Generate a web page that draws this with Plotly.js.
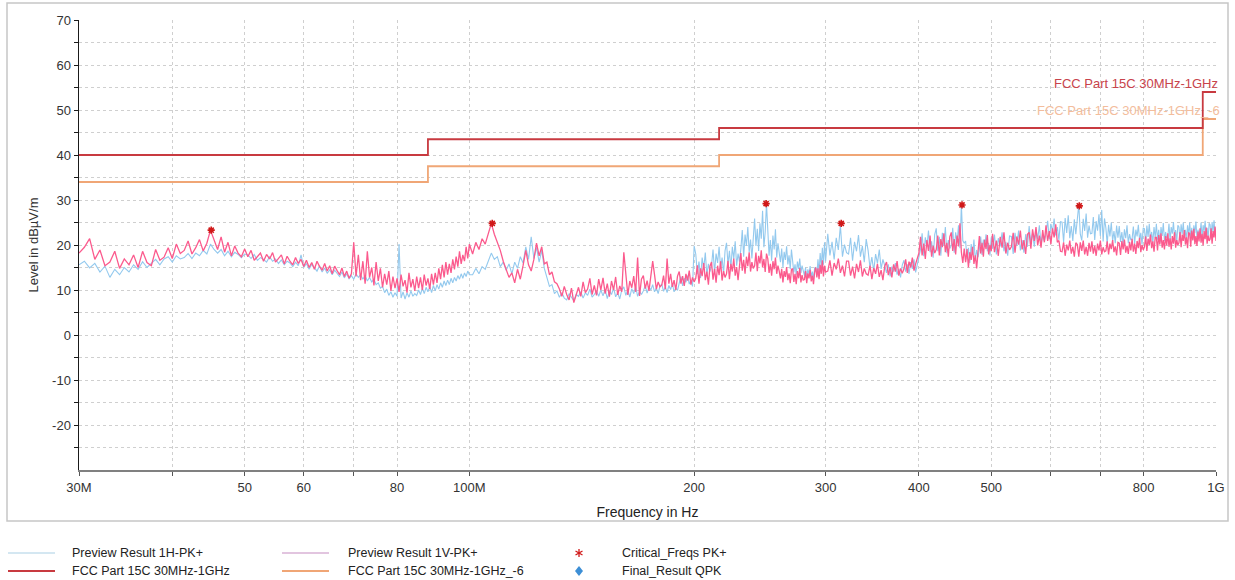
<!DOCTYPE html>
<html><head><meta charset="utf-8">
<script src="https://cdn.plot.ly/plotly-3.0.1.min.js"></script>
<style>html,body{margin:0;padding:0;background:#fff}#chart{width:1235px;height:580px}</style>
</head><body><div id="chart"></div>
<script>
// ---- data (frequency in MHz, level in dBµV/m) ----
const freqMHz = [
30,30.5,31,31.5,32,32.5,33,33.5,34,34.5,35,35.5,36,36.5,37,37.5,38,38.5,39,39.5,40,40.5,41,41.5,42,42.5,43,43.5,44,44.5,45,45.5,46,46.5,47,47.5,48,48.5,49,49.5,50,
50.5,51,51.5,52,52.5,53,53.5,54,54.5,55,55.5,56,56.5,57,57.5,58,58.5,59,59.5,60,60.5,61,61.5,62,62.5,63,63.5,64,64.5,65,65.5,66,66.5,67,67.5,68,68.5,69,69.5,70,
70.5,71,71.5,72,72.5,73,73.5,74,74.5,75,75.5,76,76.5,77,77.5,78,78.5,79,79.5,80,80.5,81,81.5,82,82.5,83,83.5,84,84.5,85,85.5,86,86.5,87,87.5,88,88.5,89,89.5,90,90.5,91,91.5,92,92.5,93,93.5,94,94.5,95,95.5,96,96.5,97,97.5,98,98.5,99,99.5,100,
101,102,103,104,105,106,107,108,109,110,111,112,113,114,115,116,117,118,119,120,121,122,123,124,125,126,127,128,129,130,131,132,133,134,135,136,137,138,139,140,141,142,143,144,145,146,147,148,149,150,
151,152,153,154,155,156,157,158,159,160,161,162,163,164,165,166,167,168,169,170,171,172,173,174,175,176,177,178,179,180,181,182,183,184,185,186,187,188,189,190,191,192,193,194,195,196,197,198,199,200,
201,202,203,204,205,206,207,208,209,210,211,212,213,214,215,216,217,218,219,220,221,222,223,224,225,226,227,228,229,230,231,232,233,234,235,236,237,238,239,240,241,242,243,244,245,246,247,248,249,250,
251,252,253,254,255,256,257,258,259,260,261,262,263,264,265,266,267,268,269,270,271,272,273,274,275,276,277,278,279,280,281,282,283,284,285,286,287,288,289,290,291,292,293,294,295,296,297,298,299,300,
302,304,306,308,310,312,314,316,318,320,322,324,326,328,330,332,334,336,338,340,342,344,346,348,350,352,354,356,358,360,362,364,366,368,370,372,374,376,378,380,
382,384,386,388,390,392,394,396,398,400,402,404,406,408,410,412,414,416,418,420,422,424,426,428,430,432,434,436,438,440,442,444,446,448,450,452,454,456,458,460,
462,464,466,468,470,472,474,476,478,480,482,484,486,488,490,492,494,496,498,500,
502,505,508,511,514,517,520,523,526,529,532,535,538,541,544,547,550,553,556,559,562,565,568,571,574,577,580,583,586,589,592,595,598,601,604,607,610,613,616,619,
622,625,628,631,634,637,640,643,646,649,652,655,658,661,664,667,670,673,676,679,682,685,688,691,694,697,700,703,706,709,712,715,718,721,724,727,730,733,736,739,
742,745,748,751,754,757,760,763,766,769,772,775,778,781,784,787,790,793,796,799,802,805,808,811,814,817,820,823,826,829,832,835,838,841,844,847,850,853,856,859,
862,865,868,871,874,877,880,883,886,889,892,895,898,901,904,907,910,913,916,919,922,925,928,931,934,937,940,943,946,949,952,955,958,961,964,967,970,973,976,979,
982,985,988,991,994,997,1000
];
const level1H = [
15.6,16.4,14.9,15.9,14.0,15.3,12.8,14.6,13.4,15.0,14.0,15.6,14.6,16.3,15.0,16.0,16.8,15.6,16.9,17.4,16.2,17.6,16.9,17.2,18.1,17.0,18.2,17.6,18.8,18.0,20.2,19.0,18.2,19.0,17.6,18.6,17.4,18.4,17.9,17.2,18.0,
17.8,17.0,17.9,16.6,17.2,16.8,16.2,17.4,16.4,16.9,15.9,16.7,15.6,16.4,16.0,15.2,16.2,15.4,17.8,15.0,15.9,14.6,15.7,14.8,14.2,15.4,14.0,14.9,13.7,14.5,13.4,14.4,13.6,13.0,14.0,12.7,13.6,12.5,13.2,12.4,
13.6,12.8,13.4,12.4,13.2,12.0,12.8,11.8,12.4,11.2,11.6,10.4,10.8,9.4,10.2,8.8,9.6,8.4,9.4,8.6,
20.2,8.2,9.6,8.0,9.4,8.4,9.8,8.6,9.2,8.8,10.0,9.0,10.4,9.2,10.6,9.6,10.8,9.4,11.0,9.8,
11.2,10.2,11.6,10.6,12.0,11.0,12.2,11.2,12.6,11.6,12.8,12.0,13.2,12.4,13.6,12.6,13.8,13.0,14.2,13.4,
13.4,14.8,13.6,15.2,14.6,16.4,18.2,16.8,17.4,15.2,16.2,14.4,15.8,13.6,16.2,14.8,17.4,16.0,19.6,16.8,21.8,17.0,19.4,16.2,18.8,14.8,13.0,10.8,11.2,9.2,9.8,8.4,9.4,8.2,7.8,9.2,8.4,7.6,9.0,8.6,9.6,8.2,9.4,8.8,10.2,8.4,9.0,9.8,8.6,10.0,
8.7,10.2,8.1,9.8,9.0,10.4,8.5,9.4,8.0,10.0,10.7,8.8,10.0,8.4,10.3,9.2,10.8,8.6,9.7,9.0,9.8,11.0,9.3,10.7,10.0,11.2,9.6,10.4,9.2,10.9,11.3,9.7,10.7,9.4,11.0,10.1,11.4,9.6,10.5,9.9,11.5,13.0,10.9,12.6,11.7,13.2,11.3,12.2,10.8,19.8,
18.0,13.5,16.3,12.7,17.2,14.7,18.3,13.3,15.8,14.1,15.4,19.0,13.9,18.1,16.0,19.6,14.8,17.2,13.6,18.7,20.5,15.7,18.7,14.8,19.6,16.9,20.8,15.4,18.1,16.3,19.1,23.3,17.4,22.3,19.8,24.0,18.4,21.2,17.0,23.0,25.9,19.8,23.6,18.7,24.8,21.4,27.6,19.5,22.9,29.2,
23.2,17.6,21.1,16.5,22.1,19.0,23.5,17.2,20.4,18.3,16.2,19.2,15.0,18.5,16.7,19.7,15.7,17.7,14.7,19.0,16.8,13.9,15.7,13.4,16.3,14.7,17.0,13.8,15.4,14.3,13.2,15.0,12.5,14.6,13.5,15.3,12.9,14.1,12.3,14.9,15.0,13.2,16.8,14.0,18.2,15.0,19.4,15.6,20.6,16.4,
22.5,17.7,20.7,16.8,21.6,18.9,24.4,17.4,20.1,18.3,18.0,21.6,16.5,20.7,18.6,22.2,17.4,19.8,16.2,21.3,18.8,14.9,17.3,14.2,18.0,15.9,19.0,14.7,16.8,15.4,13.8,15.7,13.0,15.2,14.1,16.0,13.4,14.7,12.8,15.5,
16.6,14.1,15.7,13.6,16.2,14.7,16.8,13.9,15.4,17.0,19.0,22.6,17.5,21.7,19.6,23.2,18.4,20.8,17.2,22.3,23.7,18.6,21.8,17.6,22.7,19.8,24.0,18.2,21.1,19.2,19.9,23.8,18.3,22.8,20.6,24.4,19.3,29.0,21.0,20.4,
20.9,16.8,19.4,16.0,20.2,17.8,21.2,16.5,18.9,17.3,19.0,21.9,17.8,21.2,19.5,22.4,18.6,20.5,17.6,21.7,
19.2,22.3,17.9,21.5,19.7,22.8,18.6,20.7,17.6,22.0,21.9,18.0,22.7,19.8,23.2,18.8,21.1,18.3,22.4,19.6,24.2,20.3,22.7,19.6,23.4,21.3,24.4,20.1,22.2,20.8,22.5,25.4,21.3,24.7,23.0,25.9,22.1,24.0,21.1,25.2,
25.1,20.6,26.0,22.7,26.6,21.5,24.2,20.9,25.7,22.4,26.7,29.0,22.4,21.0,25.8,23.1,27.0,21.6,24.3,22.5,22.6,26.2,21.1,25.3,23.2,26.8,22.0,27.8,20.8,25.9,23.8,20.2,24.5,21.9,25.0,20.9,23.1,20.4,24.3,21.6,
24.2,20.7,22.9,20.0,23.5,21.5,24.4,20.4,22.4,21.1,21.4,24.1,20.3,23.4,21.9,24.5,21.0,22.7,20.1,23.8,23.6,20.3,24.3,21.8,24.7,21.0,22.9,20.5,24.0,21.6,24.7,21.2,23.4,20.5,24.0,22.0,24.9,20.9,22.9,21.6,
22.0,24.7,20.9,24.0,22.5,25.1,21.6,23.3,20.7,24.4,24.0,21.0,24.6,22.4,25.0,21.6,23.4,21.2,24.4,22.2,25.0,21.8,23.8,21.2,24.4,22.6,25.2,21.6,23.4,22.2,22.6,25.0,21.6,24.4,23.0,25.4,22.2,23.8,21.4,24.8,
24.5,21.5,25.1,22.9,25.5,22.1,23.9
];
const level1V = [
18.2,19.5,21.4,16.8,18.9,15.4,16.2,18.6,14.8,16.9,15.6,17.8,15.0,18.6,16.1,15.4,19.0,16.6,17.3,19.4,17.0,20.2,18.1,18.8,20.9,18.0,19.4,21.2,18.7,20.4,23.3,21.2,19.0,21.8,18.4,20.6,17.6,19.8,18.2,17.4,19.1,
17.4,18.8,16.6,17.4,18.2,16.4,17.9,16.9,18.3,16.2,17.0,17.8,15.8,17.5,16.4,15.6,17.2,15.9,16.8,15.2,16.6,15.0,16.1,14.6,16.4,15.2,14.4,15.9,14.2,15.4,13.6,15.3,14.3,13.4,14.9,13.0,14.2,12.6,13.6,20.6,
13.0,17.8,12.2,16.4,11.4,18.6,12.8,15.0,11.0,16.2,12.0,14.8,10.6,13.6,11.2,14.2,9.8,13.0,10.4,12.6,
9.6,13.4,10.8,12.2,9.4,13.8,10.6,12.4,9.8,13.0,10.4,12.8,10.0,13.4,11.0,12.6,10.2,13.6,11.2,13.8,
11.6,14.8,12.4,15.6,12.8,16.2,13.4,15.8,13.8,16.8,14.6,17.4,15.2,18.6,15.8,17.8,16.4,19.6,17.0,20.2,
18.0,20.6,19.0,21.4,20.2,22.6,24.8,22.4,20.6,18.8,16.4,14.6,12.8,13.8,11.6,14.6,12.4,15.4,18.8,15.6,14.2,16.8,20.4,17.6,19.6,15.8,16.2,13.4,14.0,11.8,11.4,10.2,8.6,10.8,9.0,7.8,10.4,7.2,9.2,10.6,8.6,11.8,9.4,10.2,12.6,9.0,11.0,8.8,12.4,10.0,
12.7,9.2,11.4,8.5,12.0,10.0,12.9,8.9,10.9,9.6,18.4,12.7,8.9,12.0,10.5,13.1,9.6,17.2,8.7,12.4,13.2,10.3,12.1,9.8,12.7,16.4,13.4,10.2,11.8,10.7,11.1,13.2,10.2,17.0,11.4,13.6,10.7,12.2,10.0,13.1,14.1,11.4,13.1,10.9,13.6,12.1,14.3,11.2,12.8,11.8,
12.6,15.5,11.4,14.8,13.1,16.0,12.2,14.1,11.2,15.3,16.2,12.3,14.7,11.6,15.4,13.3,16.4,12.1,14.2,12.8,13.6,16.5,12.4,15.8,14.1,17.0,13.2,15.1,12.2,16.3,18.2,14.3,16.7,13.6,17.4,15.3,18.4,14.1,16.2,14.8,15.4,18.3,14.2,17.6,15.9,18.8,15.0,16.9,14.0,18.1,
17.0,13.8,15.8,13.2,16.4,14.6,17.2,13.6,15.4,14.2,12.6,14.7,11.7,14.2,12.9,15.1,12.2,13.7,11.5,14.6,14.7,11.8,13.6,11.3,14.2,12.6,14.9,11.7,13.3,12.2,12.3,14.2,11.5,13.7,12.6,14.5,11.9,13.2,11.3,14.0,15.0,12.8,14.8,12.4,15.6,13.6,16.6,13.0,15.4,14.0,
14.2,16.6,13.2,16.0,14.6,17.0,13.8,15.4,13.0,16.4,16.4,13.2,15.2,12.6,15.8,14.0,16.6,13.0,14.8,13.6,13.3,15.4,12.4,14.9,13.6,15.8,12.9,14.4,12.2,15.3,16.2,13.3,15.1,12.8,15.7,14.1,16.4,13.2,14.8,13.7,
14.7,16.8,13.8,16.3,15.0,17.2,14.3,15.8,16.8,18.2,21.8,17.7,20.3,16.9,21.1,18.7,22.1,17.4,19.8,18.2,19.0,22.1,17.7,21.3,19.5,22.6,18.4,20.5,17.4,21.8,22.8,18.7,21.3,17.9,22.1,19.7,24.8,18.4,16.0,19.2,
16.2,19.1,15.0,18.4,16.7,19.6,15.8,17.7,14.8,18.9,22.0,18.1,20.5,17.4,21.2,19.1,22.2,17.9,20.0,18.6,
22.5,18.4,21.0,17.6,21.8,19.4,22.8,18.1,20.5,18.9,19.6,22.7,18.3,21.9,20.1,23.2,19.0,21.1,18.0,22.4,22.8,19.2,23.5,20.9,24.0,19.9,22.1,19.4,23.3,20.6,24.4,20.9,23.1,20.2,23.7,21.7,24.6,20.6,21.0,18.6,
18.5,20.6,17.6,20.1,18.8,21.0,18.1,19.6,17.4,20.5,20.1,17.4,20.6,18.7,21.0,17.9,19.6,17.6,20.5,18.5,20.8,18.1,19.8,17.6,20.3,18.8,21.0,17.9,19.5,18.5,18.7,20.8,17.9,20.3,19.1,21.1,18.4,19.7,17.7,20.6,
20.4,17.8,20.9,19.0,21.2,18.3,19.8,18.0,20.7,18.8,21.4,18.5,20.3,18.0,20.9,19.3,21.6,18.4,20.0,18.9,19.6,21.9,18.7,21.4,20.0,22.3,19.3,20.8,18.5,21.7,21.7,18.8,22.2,20.1,22.6,19.4,21.1,19.0,22.0,19.9,
22.6,19.6,21.5,19.0,22.0,20.3,22.8,19.4,21.1,20.0,20.5,22.9,19.5,22.3,20.9,23.3,20.1,21.7,19.3,22.7,22.6,19.6,23.2,21.0,23.6,20.2,22.0,19.8,23.0,20.8,23.7,20.5,22.5,19.9,23.1,21.3,23.9,20.3,22.1,20.9,
21.3,23.7,20.3,23.1,21.7,24.1,20.9
];
const limitFreq = [30, 88, 216, 960, 1000];
const limitFCC  = [40, 43.5, 46, 54, 54];
const limitFCC6 = [34, 37.5, 40, 48, 48];
const critFreq  = [45.1, 107.3, 249.7, 314.8, 456.9, 656.0];
const critLevel = [23.3, 24.8, 29.2, 24.8, 28.9, 28.7];
const xTickVals = [30,40,50,60,70,80,100,200,300,400,500,600,700,800,1000];
const xTickText = ['30M','','50','60','','80','100M','200','300','400','500','','','800','1G'];
const yTickVals = [-25,-20,-15,-10,-5,0,5,10,15,20,25,30,35,40,45,50,55,60,65,70];
const yTickText = ['','-20','','-10','','0','','10','','20','','30','','40','','50','','60','','70'];
const legendNames = ['Preview Result 1H-PK+','Preview Result 1V-PK+','Critical_Freqs PK+','FCC Part 15C 30MHz-1GHz','FCC Part 15C 30MHz-1GHz_-6','Final_Result QPK'];

// ---- styling / layout ----
const FONT = 'Liberation Sans, Arial, sans-serif';
const C1H = '#93c9ee', C1V = '#fb5a8d', CLIM = '#c83a40', CLIM6 = '#f0a676';
const L = 79, R = 1216, T = 20, B = 470;
const px = x => (x - L) / (R - L);
const py = y => (B - y) / (B - T);

const traces = [
  {x: freqMHz, y: level1H, type: 'scatter', mode: 'lines', line: {color: C1H, width: 1.1}, hoverinfo: 'skip'},
  {x: freqMHz, y: level1V, type: 'scatter', mode: 'lines', line: {color: C1V, width: 1.3}, hoverinfo: 'skip'},
  {x: limitFreq, y: limitFCC6, type: 'scatter', mode: 'lines', line: {color: CLIM6, width: 1.8, shape: 'hv'}},
  {x: limitFreq, y: limitFCC, type: 'scatter', mode: 'lines', line: {color: CLIM, width: 1.8, shape: 'hv'}},
  {x: critFreq, y: critLevel, type: 'scatter', mode: 'markers',
   marker: {symbol: 'asterisk-open', size: 6, color: '#d01818', line: {color: '#d01818', width: 1.6}}}
];

const shapes = [
  {type: 'rect', xref: 'paper', yref: 'paper', x0: px(7), x1: px(1228), y0: py(521), y1: py(3),
   line: {color: '#c6c6c6', width: 1.5}, layer: 'below'}
];
const annotations = [
  {xref: 'paper', yref: 'y', x: px(1220), y: 55.8, xanchor: 'right', yanchor: 'middle', showarrow: false,
   text: 'FCC Part 15C 30MHz-1GHz', font: {family: FONT, size: 13, color: '#c8434b'}},
  {xref: 'paper', yref: 'y', x: px(1222), y: 50.0, xanchor: 'right', yanchor: 'middle', showarrow: false,
   text: 'FCC Part 15C 30MHz-1GHz_-6', font: {family: FONT, size: 13, color: '#f3bd9c'}}
];
// manual legend (3 columns x 2 rows)
const legRows = [553, 571];
const legCols = [{line: [8, 55], text: 70}, {line: [282, 329], text: 346}, {marker: 579, text: 620}];
const legStyle = [
  {kind: 'line', color: '#a9cfe4', width: 1},
  {kind: 'line', color: '#c58bc0', width: 1},
  {kind: 'star', color: '#d01818'},
  {kind: 'line', color: CLIM, width: 2},
  {kind: 'line', color: CLIM6, width: 2},
  {kind: 'diamond', color: '#3d8fd6'}
];
legendNames.forEach((name, i) => {
  const row = i < 3 ? 0 : 1, col = i % 3;
  const yy = py(legRows[row]), c = legCols[col], st = legStyle[i];
  if (st.kind === 'line') {
    shapes.push({type: 'line', xref: 'paper', yref: 'paper', x0: px(c.line[0]), x1: px(c.line[1]), y0: yy, y1: yy,
                 line: {color: st.color, width: st.width}});
  } else if (st.kind === 'star') {
    [[0, 4, 0, -4], [-3.5, 2, 3.5, -2], [-3.5, -2, 3.5, 2]].forEach(s => shapes.push({
      type: 'line', xref: 'paper', yref: 'paper', xsizemode: 'pixel', ysizemode: 'pixel',
      xanchor: px(c.marker), yanchor: yy, x0: s[0], x1: s[2], y0: s[1], y1: s[3],
      line: {color: st.color, width: 1.3}}));
  } else {
    shapes.push({type: 'path', xref: 'paper', yref: 'paper', xsizemode: 'pixel', ysizemode: 'pixel',
      xanchor: px(c.marker), yanchor: yy, path: 'M 0 5 L 4 0 L 0 -5 L -4 0 Z',
      fillcolor: st.color, line: {color: st.color, width: 0}});
  }
  annotations.push({xref: 'paper', yref: 'paper', x: px(c.text), y: yy, xanchor: 'left', yanchor: 'middle',
    showarrow: false, text: name, font: {family: FONT, size: 12.5, color: '#222'}});
});

const layout = {
  width: 1235, height: 580,
  margin: {l: L, r: 1235 - R, t: T, b: 580 - B, pad: 0},
  paper_bgcolor: '#fff', plot_bgcolor: '#fff',
  showlegend: false,
  font: {family: FONT, size: 13, color: '#333'},
  xaxis: {
    type: 'log', range: [Math.log10(30), 3],
    tickvals: xTickVals, ticktext: xTickText,
    showgrid: true, gridcolor: '#cfcfcf', griddash: '3px,3px', gridwidth: 1,
    showline: true, linecolor: '#808080', linewidth: 2,
    ticks: 'outside', ticklen: 4, tickcolor: '#555', tickwidth: 1,
    tickfont: {family: FONT, size: 13, color: '#333'},
    zeroline: false,
    title: {text: 'Frequency in Hz', font: {family: FONT, size: 14, color: '#222'}, standoff: 14}
  },
  yaxis: {
    range: [-30, 70],
    tickvals: yTickVals, ticktext: yTickText,
    showgrid: true, gridcolor: '#cfcfcf', griddash: '3px,3px', gridwidth: 1,
    showline: true, linecolor: '#1a1a1a', linewidth: 1.5,
    ticks: 'outside', ticklen: 4, tickcolor: '#1a1a1a', tickwidth: 1,
    tickfont: {family: FONT, size: 13, color: '#333'},
    zeroline: false,
    title: {text: 'Level in dBµV/m', font: {family: FONT, size: 13, color: '#333'}, standoff: 10}
  },
  shapes: shapes,
  annotations: annotations
};
Plotly.newPlot('chart', traces, layout, {staticPlot: true, displayModeBar: false});
</script>
</body></html>
